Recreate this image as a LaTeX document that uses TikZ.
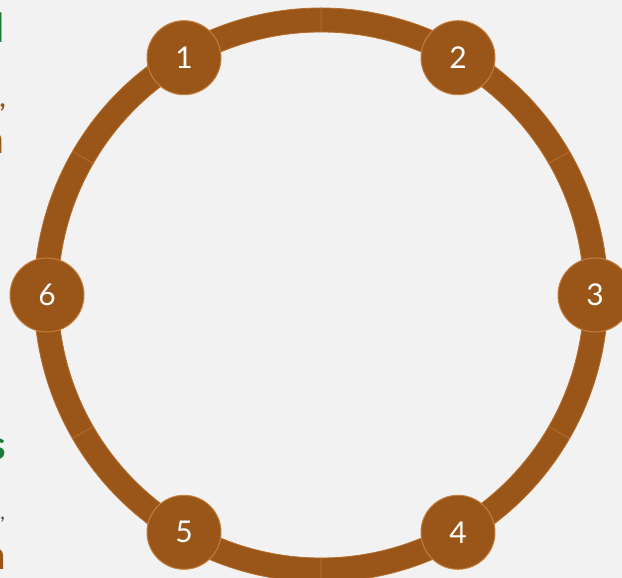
\documentclass[tikz,border=0pt]{standalone}
\usepackage{fontspec}
\setmainfont{Lato}
\definecolor{bg}{HTML}{F2F2F2}
\definecolor{ringfill}{HTML}{9A5518}
\definecolor{ringedge}{HTML}{B56E2C}
\definecolor{nodeedge}{HTML}{C27F3E}
\definecolor{txtgreen}{HTML}{1E7A38}
\definecolor{txtbrown}{HTML}{9A5518}
\definecolor{txtgray}{HTML}{404040}
\tikzset{
  numnode/.style={circle, fill=ringfill, draw=nodeedge, line width=1pt,
    minimum size=74pt, inner sep=0pt, text=white, font=\fontsize{30}{30}\selectfont},
  frag/.style={inner sep=0pt, font=\bfseries\fontsize{40}{40}\selectfont}
}
\begin{document}
\begin{tikzpicture}[x=1pt,y=1pt]
\useasboundingbox (0,0) rectangle (622,578);
\clip (0,0) rectangle (622,578);
\fill[bg] (0,0) rectangle (622,578);
\coordinate (c) at (321,283);
% ring segments
\foreach \a in {30,90,150,210,270,330}{
  \filldraw[fill=ringfill, draw=ringedge, line width=0.8pt]
    ([shift={(c)}]\a:287) arc[start angle=\a, end angle=\a+60, radius=287]
    -- ([shift={(c)}]\a+60:263) arc[start angle=\a+60, end angle=\a, radius=263] -- cycle;
}
% numbered nodes
\node[numnode] (n1) at ([shift={(c)}]120:274) {1};
\node[numnode] (n2) at ([shift={(c)}]60:274) {2};
\node[numnode] (n3) at ([shift={(c)}]0:274) {3};
\node[numnode] (n4) at ([shift={(c)}]-60:274) {4};
\node[numnode] (n5) at ([shift={(c)}]-120:274) {5};
\node[numnode] (n6) at ([shift={(c)}]180:274) {6};
% clipped text fragments on the left edge
\node[frag, text=txtgreen, anchor=base east] (f1) at (5,535) {l};
\node[inner sep=0pt, text=txtbrown, font=\bfseries\fontsize{26}{26}\selectfont, anchor=base east] (f2) at (6,470) {,};
\node[frag, text=txtbrown, anchor=base east] (f3) at (4.5,424) {n};
\node[frag, text=txtgreen, anchor=base east] (f4) at (6,118) {s};
\node[inner sep=0pt, text=txtgray, font=\fontsize{20}{20}\selectfont, anchor=base east] (f5) at (5,58) {,};
\node[frag, text=txtbrown, anchor=base east] (f6) at (6,8) {a};
\end{tikzpicture}
\end{document}
